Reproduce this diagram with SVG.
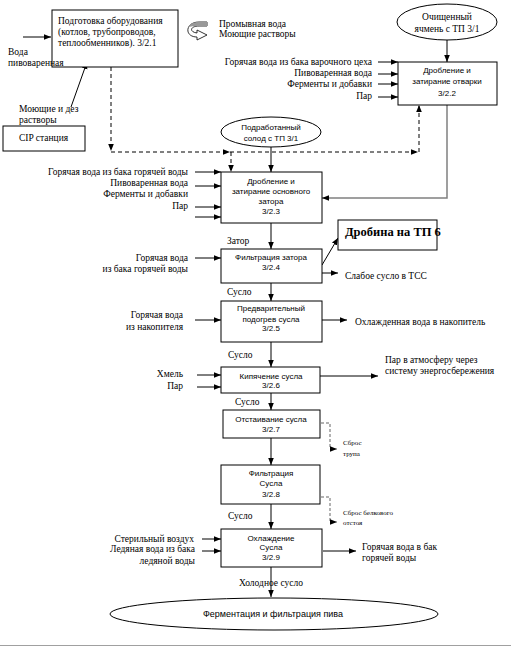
<svg xmlns="http://www.w3.org/2000/svg" width="511" height="646" viewBox="0 0 511 646">
<defs>
<marker id="ah" viewBox="0 0 10 10" refX="10" refY="5" markerWidth="7" markerHeight="7" markerUnits="userSpaceOnUse" orient="auto">
<path d="M0,1 L10,5 L0,9 Z" fill="#000"/>
</marker>
</defs>
<style>
.box{fill:#fff;stroke:#000;stroke-width:1}
.ell{fill:#fff;stroke:#000;stroke-width:1}
.ln{fill:none;stroke:#000;stroke-width:1;marker-end:url(#ah)}
.dash{fill:none;stroke:#000;stroke-width:1;stroke-dasharray:4,3;marker-end:url(#ah)}
.gdash{fill:none;stroke:#999;stroke-width:1.5;stroke-dasharray:3,2}
.grey{fill:none;stroke:#808080;stroke-width:1.5;marker-end:url(#ah)}
.s{font-family:"Liberation Serif","Times New Roman",serif;font-size:9.5px;fill:#000}
.ss{font-family:"Liberation Serif","Times New Roman",serif;font-size:7px;fill:#000}
.a{font-family:"Liberation Sans",Arial,sans-serif;font-size:8px;fill:#000;text-anchor:middle}
.r{text-anchor:end}
.m{text-anchor:middle}
</style>
<rect x="0" y="0" width="511" height="646" fill="#fff"/>
<line x1="0" y1="645.5" x2="511" y2="645.5" stroke="#a0a0a0" stroke-width="1"/>

<g id="connectors">
<path class="ln" d="M23,37 H51"/>
<path class="ln" d="M71,107 L87,62"/>
<path class="dash" d="M111,67 V151"/>
<path class="dash" d="M111,152 H230"/>
<path class="dash" d="M230,152 H418"/>
<path class="dash" d="M231,152 V172"/>
<path class="dash" d="M419,152 V105"/>
<path class="grey" d="M447,105 V198 H322"/>
<path class="ln" d="M447,40 V62"/>
<path class="ln" d="M378,62 H398"/>
<path class="ln" d="M378,74 H398"/>
<path class="ln" d="M378,84 H398"/>
<path class="ln" d="M378,97 H398"/>
<path class="ln" d="M271,147 V172"/>
<path class="ln" d="M195,172 H221"/>
<path class="ln" d="M195,186 H221"/>
<path class="ln" d="M195,207 H221"/>
<path class="ln" d="M195,217 H221"/>
<path class="ln" d="M271,223 V249"/>
<path class="ln" d="M195,258 H221"/>
<path class="ln" d="M322,265 L338,238"/>
<path class="ln" d="M322,273 H338"/>
<path class="ln" d="M271,283 V301"/>
<path class="ln" d="M195,320 H221"/>
<path class="ln" d="M322,320 H347"/>
<path class="ln" d="M271,342 V367"/>
<path class="ln" d="M197,375 H221"/>
<path class="ln" d="M197,387 H221"/>
<path class="ln" d="M320,376 H378"/>
<path class="ln" d="M271,393 V410"/>
<path class="ln" d="M271,438 V465"/>
<path class="ln" d="M271,504 V529"/>
<path class="ln" d="M202,539 H221"/>
<path class="ln" d="M202,551 H221"/>
<path class="ln" d="M323,551 H356"/>
<path class="ln" d="M271,567 V597"/>
<path class="gdash" d="M321,423 H330 V449"/>
<path class="ln" d="M330,449 H337" style="stroke:#999"/>
<path class="gdash" d="M321,497 H330 V522"/>
<path class="ln" d="M330,522 H337" style="stroke:#999"/>
</g>

<g id="loop-arrow">
<path d="M207,22 L199,22 C185,22 184,37 197,37 L197,40 L207,35 L197,30 L197,33 C189,32 190,26 199,26 L207,26 Z" fill="#fff" stroke="#000" stroke-width="0.8"/>
<path d="M207,22 L199,22 C192,22 189,25 188,28 C190,26 194,26 199,26 L207,26 Z" fill="#999"/>
</g>
<text class="s" x="219" y="27">Промывная вода</text>
<text class="s" x="219" y="37">Моющие растворы</text>

<g id="n321">
<rect class="box" x="52" y="10" width="126" height="57"/>
<text class="s" x="58" y="24">Подготовка оборудования</text>
<text class="s" x="58" y="35">(котлов, трубопроводов,</text>
<text class="s" x="58" y="46">теплообменников). 3/2.1</text>
</g>
<text class="s" x="8" y="55">Вода</text>
<text class="s" x="8" y="66">пивоваренная</text>
<text class="s" x="19" y="112">Моющие и дез</text>
<text class="s" x="19" y="123">растворы</text>

<g id="cip">
<rect class="box" x="3" y="126" width="82" height="25"/>
<text class="s" x="19" y="141">CIP станция</text>
</g>

<g id="barley">
<ellipse class="ell" cx="447" cy="22" rx="50" ry="18"/>
<text class="s m" x="447" y="20">Очищенный</text>
<text class="s m" x="447" y="32">ячмень с ТП 3/1</text>
</g>

<g id="n322">
<rect class="box" x="398" y="62" width="99" height="43"/>
<text class="a" x="447" y="73">Дробление  и</text>
<text class="a" x="447" y="84">затирание  отварки</text>
<text class="a" x="447" y="96">3/2.2</text>
</g>
<text class="s r" x="372" y="65">Горячая вода из бака варочного цеха</text>
<text class="s r" x="372" y="76">Пивоваренная вода</text>
<text class="s r" x="372" y="87">Ферменты и добавки</text>
<text class="s r" x="372" y="99">Пар</text>

<g id="malt">
<ellipse class="ell" cx="271" cy="132" rx="50" ry="15"/>
<text class="a" x="271" y="130">Подработанный</text>
<text class="a" x="271" y="141">солод  с ТП 3/1</text>
</g>

<g id="n323">
<rect class="box" x="221" y="172" width="101" height="51"/>
<text class="a" x="271" y="184">Дробление  и</text>
<text class="a" x="271" y="194">затирание  основного</text>
<text class="a" x="271" y="204">затора</text>
<text class="a" x="271" y="214">3/2.3</text>
</g>
<text class="s r" x="188" y="175">Горячая вода из бака горячей воды</text>
<text class="s r" x="188" y="186">Пивоваренная вода</text>
<text class="s r" x="188" y="197">Ферменты и добавки</text>
<text class="s r" x="188" y="209">Пар</text>

<text class="s" x="227" y="244">Затор</text>

<g id="n324">
<rect class="box" x="221" y="249" width="101" height="34"/>
<text class="a" x="271" y="260">Фильтрация  затора</text>
<text class="a" x="271" y="270">3/2.4</text>
</g>
<text class="s r" x="188" y="261">Горячая вода</text>
<text class="s r" x="188" y="272">из бака горячей воды</text>

<g id="drobina">
<rect class="box" x="338" y="220" width="99" height="30"/>
<text x="345" y="236" style="font-family:'Liberation Serif','Times New Roman',serif;font-size:12.5px;font-weight:bold">Дробина на ТП 6</text>
</g>
<text class="s" x="345" y="279">Слабое сусло в ТСС</text>

<text class="s" x="227" y="295">Сусло</text>

<g id="n325">
<rect class="box" x="221" y="301" width="101" height="41"/>
<text class="a" x="271" y="311">Предварительный</text>
<text class="a" x="271" y="322">подогрев  сусла</text>
<text class="a" x="271" y="331">3/2.5</text>
</g>
<text class="s r" x="183" y="318">Горячая вода</text>
<text class="s r" x="183" y="330">из накопителя</text>
<text class="s" x="355" y="325">Охлажденная вода в  накопитель</text>

<text class="s" x="228" y="358">Сусло</text>

<g id="n326">
<rect class="box" x="221" y="367" width="99" height="26"/>
<text class="a" x="271" y="379">Кипячение  сусла</text>
<text class="a" x="271" y="388">3/2.6</text>
</g>
<text class="s r" x="183" y="377">Хмель</text>
<text class="s r" x="183" y="389">Пар</text>
<text class="s" x="385" y="363">Пар в атмосферу через</text>
<text class="s" x="385" y="374">систему энергосбережения</text>

<text class="s" x="235" y="405">Сусло</text>

<g id="n327">
<rect class="box" x="223" y="410" width="97" height="28"/>
<text class="a" x="271" y="422">Отстаивание  сусла</text>
<text class="a" x="271" y="432">3/2.7</text>
</g>
<text class="ss" x="343" y="445">Сброс</text>
<text class="ss" x="343" y="456">трупа</text>

<g id="n328">
<rect class="box" x="221" y="465" width="99" height="39"/>
<text class="a" x="271" y="476">Фильтрация</text>
<text class="a" x="271" y="486">Сусла</text>
<text class="a" x="271" y="497">3/2.8</text>
</g>
<text class="ss" x="343" y="515">Сброс  белкового</text>
<text class="ss" x="343" y="525">отстоя</text>

<text class="s" x="228" y="519">Сусло</text>

<g id="n329">
<rect class="box" x="221" y="529" width="101" height="38"/>
<text class="a" x="271" y="541">Охлаждение</text>
<text class="a" x="271" y="550">Сусла</text>
<text class="a" x="271" y="560">3/2.9</text>
</g>
<text class="s r" x="194" y="542">Стерильный воздух</text>
<text class="s r" x="195" y="552">Ледяная вода из бака</text>
<text class="s r" x="195" y="564">ледяной воды</text>
<text class="s" x="362" y="550">Горячая вода в бак</text>
<text class="s" x="362" y="561">горячей воды</text>

<text class="s m" x="271" y="586">Холодное сусло</text>

<g id="ferment">
<ellipse class="ell" cx="274" cy="614" rx="164" ry="16"/>
<text x="273" y="617" style="font-family:'Liberation Sans',Arial,sans-serif;font-size:9px;text-anchor:middle">Ферментация  и фильтрация  пива</text>
</g>
</svg>
